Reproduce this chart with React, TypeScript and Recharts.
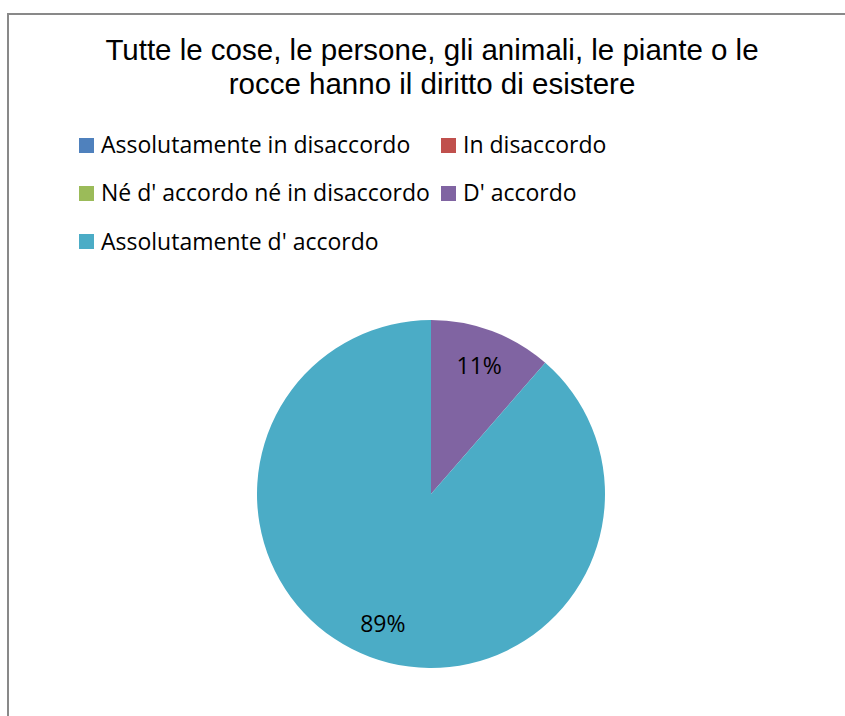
import { PieChart, Pie, Cell, Legend } from "recharts";

const TITLE_LINES = [
  "Tutte le cose, le persone, gli animali, le piante o le",
  "rocce hanno il diritto di esistere",
];

const CATEGORIES = [
  "Assolutamente in disaccordo",
  "In disaccordo",
  "Né d' accordo né in disaccordo",
  "D' accordo",
  "Assolutamente d' accordo",
];

// share of answers (labels round to 11% / 89%)
const VALUES = [0, 0, 0, 11.4, 88.6];

const COLORS = ["#4F81BD", "#C0504D", "#9BBB59", "#8064A2", "#4BACC6"];

const LABEL_FONT = "'Open Sans', 'Noto Sans', sans-serif";

const data = CATEGORIES.map((name, i) => ({ name, value: VALUES[i] }));

const RADIAN = Math.PI / 180;

const renderLabel = (props: any) => {
  const { cx, cy, midAngle, outerRadius, percent, value } = props;
  if (!value) return null;
  const r = outerRadius * 0.79;
  const x = cx + r * Math.cos(-midAngle * RADIAN);
  const y = cy + r * Math.sin(-midAngle * RADIAN);
  return (
    <text
      x={x}
      y={y}
      textAnchor="middle"
      dominantBaseline="central"
      fill="#000"
      style={{ fontFamily: LABEL_FONT, fontSize: 23 }}
    >
      {`${Math.round(percent * 100)}%`}
    </text>
  );
};

const renderLegend = () => (
  <div
    style={{
      display: "grid",
      gridTemplateColumns: "362px auto",
      gridAutoRows: "48.3px",
      fontFamily: LABEL_FONT,
      fontSize: 23,
      lineHeight: "48px",
      color: "#000",
    }}
  >
    {CATEGORIES.map((name, i) => (
      <div key={name} style={{ display: "flex", alignItems: "center", whiteSpace: "nowrap" }}>
        <span
          style={{
            width: 15,
            height: 15,
            background: COLORS[i],
            marginRight: 7,
            marginTop: 2,
            flex: "none",
          }}
        />
        <span>{name}</span>
      </div>
    ))}
  </div>
);

export default function App() {
  return (
    <div
      style={{
        position: "fixed",
        top: 0,
        left: 0,
        width: 845,
        height: 716,
        overflow: "hidden",
        background: "#fff",
      }}
    >
      <div
        style={{
          position: "absolute",
          left: 7,
          top: 13,
          width: 900,
          height: 800,
          border: "2px solid #898989",
          boxSizing: "border-box",
        }}
      />
      <div
        style={{
          position: "absolute",
          left: 0,
          top: 33,
          width: 864,
          textAlign: "center",
          fontFamily: "'Liberation Sans Narrow', 'Liberation Sans', Arial, sans-serif",
          fontSize: 29.5,
          lineHeight: "34px",
          color: "#000",
        }}
      >
        {TITLE_LINES.map((line) => (
          <div key={line} style={{ whiteSpace: "nowrap" }}>
            {line}
          </div>
        ))}
      </div>
      <div style={{ position: "absolute", left: 0, top: 0 }}>
        <PieChart width={845} height={716} margin={{ top: 0, right: 0, bottom: 0, left: 0 }}>
          <Legend
            content={renderLegend}
            wrapperStyle={{ position: "absolute", left: 79, top: 120, width: "auto" }}
          />
          <Pie
            data={data}
            dataKey="value"
            nameKey="name"
            cx={431}
            cy={494}
            outerRadius={174}
            startAngle={90}
            endAngle={-270}
            stroke="none"
            label={renderLabel}
            labelLine={false}
            isAnimationActive={false}
          >
            {data.map((d, i) => (
              <Cell key={d.name} fill={COLORS[i]} />
            ))}
          </Pie>
        </PieChart>
      </div>
    </div>
  );
}
